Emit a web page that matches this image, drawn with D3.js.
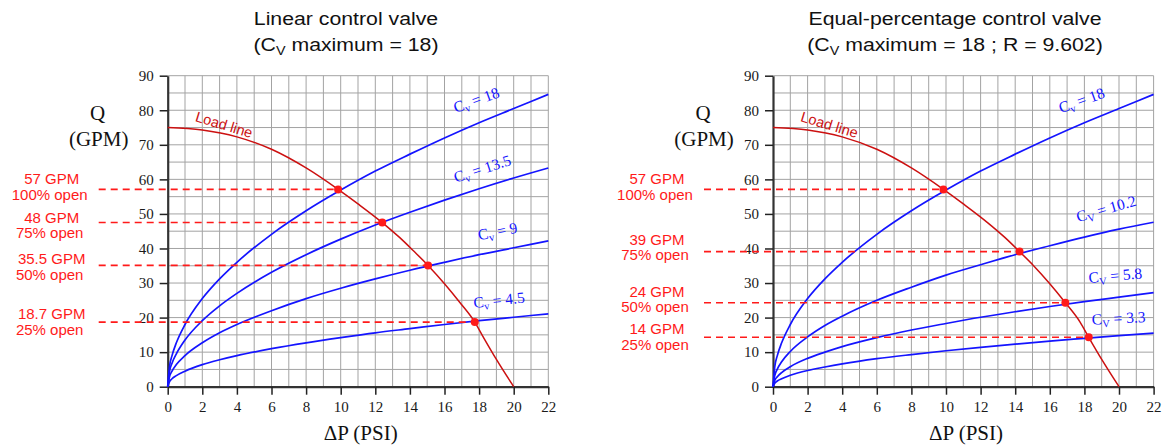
<!DOCTYPE html>
<html>
<head>
<meta charset="utf-8">
<script src="https://cdn.jsdelivr.net/npm/d3@7"></script>
<style>
    body { margin: 0; background: #fff; }
    svg { display: block; }
</style>
</head>
<body>
<svg id="chart" width="1165" height="446"></svg>
<script>
// pressure drop samples (PSI) used for every valve curve
const psi = [0, 0.1, 0.25, 0.5, 1, 2, 3, 4, 6, 8, 10, 12, 14, 16, 18, 20, 22];

// linear valve curves, flow in GPM at each psi sample
const linCv18 = [0, 5.7, 9, 12.7, 18, 25.5, 31.2, 36, 44.1, 50.9, 56.9, 62.4, 67.3, 72, 76.4, 80.5, 84.6];
const linCv135 = [0, 4.3, 6.8, 9.5, 13.5, 19.1, 23.4, 27, 33.1, 38.2, 42.7, 46.8, 50.5, 54, 57.3, 60.4, 63.3];
const linCv9 = [0, 2.8, 4.5, 6.4, 9, 12.7, 15.6, 18, 22, 25.5, 28.5, 31.2, 33.7, 36, 38.2, 40.2, 42.2];
const linCv45 = [0, 1.4, 2.3, 3.2, 4.5, 6.4, 7.8, 9, 11, 12.7, 14.2, 15.6, 16.8, 18, 19.1, 20.1, 21.1];

// equal-percentage valve curves
const eqCv18 = linCv18;
const eqCv102 = [0, 3.2, 5.1, 7.2, 10.2, 14.4, 17.7, 20.4, 25, 28.8, 32.3, 35.3, 38.2, 40.8, 43.3, 45.6, 47.6];
const eqCv58 = [0, 1.8, 2.9, 4.1, 5.8, 8.2, 10, 11.6, 14.2, 16.4, 18.3, 20.1, 21.7, 23.2, 24.6, 25.9, 27.2];
const eqCv33 = [0, 1.0, 1.65, 2.3, 3.3, 4.7, 5.7, 6.6, 8.1, 9.3, 10.4, 11.4, 12.3, 13.2, 14, 14.8, 15.5];

// load line
const loadPsi = [0, 2, 4, 6, 8, 9.85, 11, 12.4, 13.4, 14.25, 15.05, 16, 16.9, 17.75, 18.25, 19, 20];
const loadGpm = [75, 74.3, 72.3, 68.7, 63.3, 57.1, 52.9, 47.5, 43.2, 39.1, 35.1, 29.8, 24.3, 18.7, 14.3, 7.9, 0];

// operating points (psi, gpm) and their labels
const linOpPsi = [9.85, 12.4, 15.05, 17.75];
const linOpGpm = [57.1, 47.5, 35.1, 18.7];
const linOpText = ["57 GPM", "48 GPM", "35.5 GPM", "18.7 GPM"];
const eqOpPsi = [9.85, 14.25, 16.9, 18.25];
const eqOpGpm = [57.1, 39.1, 24.3, 14.3];
const eqOpText = ["57 GPM", "39 GPM", "24 GPM", "14 GPM"];
const openText = ["100% open", "75% open", "50% open", "25% open"];

const xTicks = d3.range(0, 23, 2);
const yTicks = d3.range(0, 91, 10);

const BLUE = "#1414ff";
const RED = "#ff1a1a";
const DARKRED = "#cc1010";
const SERIF = "'Liberation Serif', 'Times New Roman', serif";
const SANS = "'Liberation Sans', Arial, sans-serif";

const svg = d3.select("#chart");
svg.append("rect").attr("width", 1165).attr("height", 446).attr("fill", "#fff");

const panels = [
    {
        left: 167.7,
        titleX: 346,
        title1: "Linear control valve",
        title2: [" maximum = 18)"],
        sub: "V",
        curves: [
            { q: linCv18, name: "18", sub: "v", at: [16.65, 79.2], rot: -20 },
            { q: linCv135, name: "13.5", sub: "v", at: [16.65, 59.0], rot: -18 },
            { q: linCv9, name: "9", sub: "v", at: [18.0, 42.4], rot: -11 },
            { q: linCv45, name: "4.5", sub: "v", at: [17.7, 22.8], rot: -6 }
        ],
        opPsi: linOpPsi,
        opGpm: linOpGpm,
        opText: linOpText,
        labelShift: [-5, 0, -1, -3]
    },
    {
        left: 773,
        titleX: 955,
        title1: "Equal-percentage control valve",
        title2: [" maximum = 18 ; R = 9.602)"],
        sub: "V",
        curves: [
            { q: eqCv18, name: "18", sub: "v", at: [16.65, 79.1], rot: -20 },
            { q: eqCv102, name: "10.2", sub: "V", at: [17.63, 47.6], rot: -16 },
            { q: eqCv58, name: "5.8", sub: "V", at: [18.26, 30.0], rot: -5 },
            { q: eqCv33, name: "3.3", sub: "V", at: [18.44, 17.9], rot: -3 }
        ],
        opPsi: eqOpPsi,
        opGpm: eqOpGpm,
        opText: eqOpText,
        labelShift: [-5, -7, -6, -3]
    }
];

const drawPanel = (p) => {
    const x = d3.scaleLinear().domain([0, 22]).range([p.left, p.left + 380.6]);
    const y = d3.scaleLinear().domain([0, 90]).range([386.7, 75.7]);
    const g = svg.append("g");

    // titles (source text is a little wider than Arial, so stretch it)
    g.append("text")
        .attr("transform", `translate(${p.titleX},25) scale(1.15,1)`)
        .attr("text-anchor", "middle")
        .attr("font-family", SANS)
        .attr("font-size", 18.5)
        .attr("fill", "#111")
        .text(p.title1);
    const t2 = g.append("text")
        .attr("transform", `translate(${p.titleX},51) scale(1.15,1)`)
        .attr("text-anchor", "middle")
        .attr("font-family", SANS)
        .attr("font-size", 18.5)
        .attr("fill", "#111");
    t2.append("tspan").text("(C");
    t2.append("tspan").attr("font-size", 12.5).attr("dy", 4).text(p.sub);
    t2.append("tspan").attr("dy", -4).text(p.title2[0]);

    // grid
    g.append("g")
        .selectAll("line")
        .data(d3.range(1, 23))
        .join("line")
        .attr("x1", (d) => x(d))
        .attr("x2", (d) => x(d))
        .attr("y1", y(0))
        .attr("y2", y(90))
        .attr("stroke", "#a3a3a3")
        .attr("stroke-width", 1);
    g.append("g")
        .selectAll("line")
        .data(d3.range(5, 91, 5))
        .join("line")
        .attr("x1", x(0))
        .attr("x2", x(22))
        .attr("y1", (d) => y(d))
        .attr("y2", (d) => y(d))
        .attr("stroke", "#a3a3a3")
        .attr("stroke-width", 1);

    // axes
    const styleAxis = (a) => {
        a.select(".domain").attr("stroke", "#333").attr("stroke-width", 2.2);
        a.selectAll(".tick line").attr("stroke", "#222").attr("stroke-width", 1.5);
        a.selectAll(".tick text").attr("font-family", SERIF).attr("font-size", 15).attr("fill", "#1a1a1a");
    };
    g.append("g")
        .attr("transform", `translate(${x(0)},0)`)
        .call(d3.axisLeft(y).tickValues(yTicks).tickSize(8).tickSizeOuter(0).tickPadding(6))
        .call(styleAxis);
    g.append("g")
        .attr("transform", `translate(0,${y(0)})`)
        .call(d3.axisBottom(x).tickValues(xTicks).tickSize(8).tickSizeOuter(0).tickPadding(7))
        .call(styleAxis);

    // axis titles
    g.append("text")
        .attr("x", x(0) - 70)
        .attr("y", 119.5)
        .attr("text-anchor", "middle")
        .attr("font-family", SERIF)
        .attr("font-size", 21)
        .attr("fill", "#111")
        .text("Q");
    g.append("text")
        .attr("x", x(0) - 69)
        .attr("y", 146)
        .attr("text-anchor", "middle")
        .attr("font-family", SERIF)
        .attr("font-size", 21)
        .attr("fill", "#111")
        .text("(GPM)");
    g.append("text")
        .attr("x", x(0) + 193)
        .attr("y", 440)
        .attr("text-anchor", "middle")
        .attr("font-family", SERIF)
        .attr("font-size", 21)
        .attr("fill", "#111")
        .text("\u0394P (PSI)");

    // valve curves
    const line = d3
        .line()
        .x((d) => x(d[0]))
        .y((d) => y(d[1]))
        .curve(d3.curveMonotoneX);

    p.curves.forEach((c) => {
        g.append("path")
            .attr("d", line(psi.map((v, i) => [v, c.q[i]])))
            .attr("fill", "none")
            .attr("stroke", BLUE)
            .attr("stroke-width", 1.7);

        const t = g
            .append("text")
            .attr("transform", `translate(${x(c.at[0])},${y(c.at[1])}) rotate(${c.rot})`)
            .attr("font-family", SERIF)
            .attr("font-size", 15.5)
            .attr("fill", BLUE);
        t.append("tspan").text("C");
        t.append("tspan").attr("font-size", 10.5).attr("dy", 3).text(c.sub);
        t.append("tspan").attr("dy", -3).text(" = " + c.name);
    });

    // load line
    g.append("path")
        .attr("d", line(loadPsi.map((v, i) => [v, loadGpm[i]])))
        .attr("fill", "none")
        .attr("stroke", DARKRED)
        .attr("stroke-width", 1.5);
    g.append("text")
        .attr("transform", `translate(${x(1.55)},${y(76.9)}) rotate(17)`)
        .attr("font-family", SANS)
        .attr("font-size", 14.5)
        .attr("fill", DARKRED)
        .text("Load line");

    // operating points
    p.opPsi.forEach((v, i) => {
        const yy = y(p.opGpm[i]);
        g.append("line")
            .attr("x1", x(0) - 69)
            .attr("x2", x(v))
            .attr("y1", yy)
            .attr("y2", yy)
            .attr("stroke", RED)
            .attr("stroke-width", 1.6)
            .attr("stroke-dasharray", "7,5");
        g.append("circle").attr("cx", x(v)).attr("cy", yy).attr("r", 4).attr("fill", RED);

        const lab = g
            .append("text")
            .attr("text-anchor", "middle")
            .attr("font-family", SANS)
            .attr("font-size", 15)
            .attr("fill", RED);
        lab.append("tspan")
            .attr("x", x(0) - 116)
            .attr("y", yy + p.labelShift[i])
            .text(p.opText[i]);
        lab.append("tspan")
            .attr("x", x(0) - 118)
            .attr("y", yy + p.labelShift[i] + 15.5)
            .text(openText[i]);
    });
};

panels.forEach(drawPanel);
</script>
</body>
</html>
